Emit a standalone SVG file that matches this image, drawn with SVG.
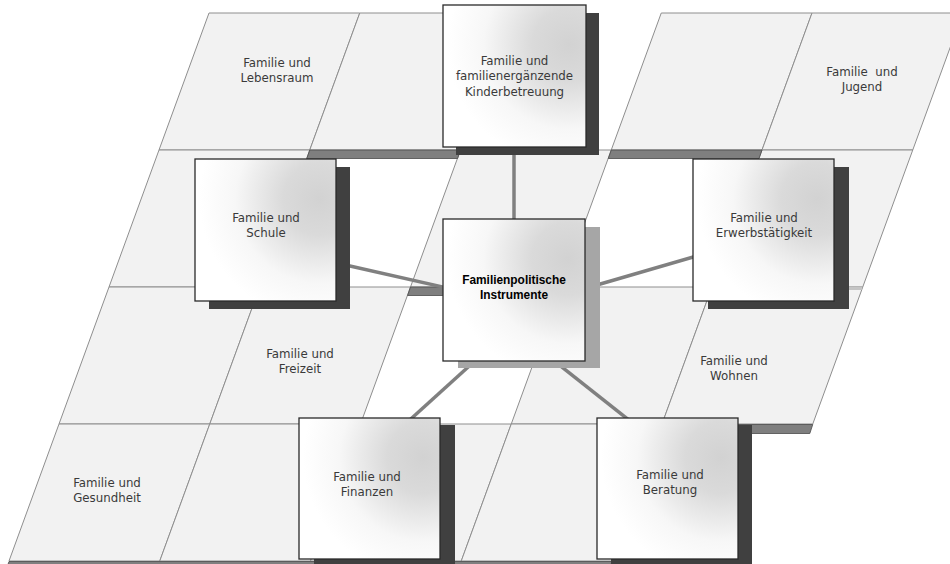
<svg xmlns="http://www.w3.org/2000/svg" width="950" height="564" viewBox="0 0 950 564">
<defs>
<radialGradient id="boxg" cx="0.88" cy="0.28" r="0.85" fx="0.88" fy="0.28">
<stop offset="0" stop-color="#D2D2D2"/>
<stop offset="0.3" stop-color="#DADADA"/>
<stop offset="0.7" stop-color="#F7F7F7"/>
<stop offset="1" stop-color="#FFFFFF"/>
</radialGradient>
<style>
.tile{fill:#F2F2F2;stroke:#8E8E8E;stroke-width:1}
.strip{fill:#7F7F7F;stroke:#4A4A4A;stroke-width:0.8}
.conn{stroke:#808080;stroke-width:3.5;fill:none}
.sh{fill:#404040}
.shc{fill:#A6A6A6}
.box{fill:url(#boxg);stroke:#2A2A2A;stroke-width:1.3}
.lbl{font-family:"DejaVu Sans","Liberation Sans",sans-serif;font-size:11.8px;fill:#3A3A3A;text-anchor:middle}
.lblb{font-family:"Liberation Sans","DejaVu Sans",sans-serif;font-size:11.9px;font-weight:bold;fill:#000;text-anchor:middle}
</style>
</defs>
<rect width="950" height="564" fill="#FFFFFF"/>
<g id="tiles">
<g id="tile-lebensraum">
<polygon class="tile" points="209,13 359.75,13 309.75,150 159,150"/>
<text class="lbl" x="277" y="66.5">Familie und</text>
<text class="lbl" x="277" y="81.5">Lebensraum</text>
</g>
<polygon class="tile" points="359.75,13 510.5,13 460.5,150 309.75,150"/>
<polygon class="tile" points="661.25,13 812,13 762,150 611.25,150"/>
<g id="tile-jugend">
<polygon class="tile" points="812,13 962.75,13 912.75,150 762,150"/>
<text class="lbl" x="862" y="75.5" xml:space="preserve">Familie  und</text>
<text class="lbl" x="862" y="90.5">Jugend</text>
</g>
<polygon class="tile" points="159,150 309.75,150 259.75,287 109,287"/>
<polygon class="tile" points="460.5,150 611.25,150 561.25,287 410.5,287"/>
<polygon class="tile" points="762,150 912.75,150 862.75,287 712,287"/>
<polygon class="tile" points="109,287 259.75,287 209.75,424 59,424"/>
<g id="tile-freizeit">
<polygon class="tile" points="259.75,287 410.5,287 360.5,424 209.75,424"/>
<text class="lbl" x="300" y="357.5">Familie und</text>
<text class="lbl" x="300" y="372.5">Freizeit</text>
</g>
<polygon class="tile" points="561.25,287 712,287 662,424 511.25,424"/>
<g id="tile-wohnen">
<polygon class="tile" points="712,287 862.75,287 812.75,424 662,424"/>
<text class="lbl" x="734" y="364.5">Familie und</text>
<text class="lbl" x="734" y="380">Wohnen</text>
</g>
<g id="tile-gesundheit">
<polygon class="tile" points="59,424 209.75,424 159.75,561 9,561"/>
<text class="lbl" x="107" y="486.5">Familie und</text>
<text class="lbl" x="107" y="501.5">Gesundheit</text>
</g>
<polygon class="tile" points="209.75,424 360.5,424 310.5,561 159.75,561"/>
<polygon class="tile" points="360.5,424 511.25,424 461.25,561 310.5,561"/>
<polygon class="tile" points="511.25,424 662,424 612,561 461.25,561"/>
<polygon class="strip" points="309.75,150 460.5,150 457.6,158.5 306.8,158.5"/>
<polygon class="strip" points="611.25,150 762,150 759,158.5 608.3,158.5"/>
<polygon class="strip" points="410.5,287 561.25,287 558.3,295.5 407.6,295.5"/>
<polygon class="strip" points="662,424.5 812.75,424.5 809.8,433.5 659,433.5"/>
<polygon class="strip" points="9,561.5 612,561.5 609,570 6,570"/>
<polygon points="849,286.5 862.5,286.5 861.5,290 849,290" fill="#C4C4C4"/>
</g>
<g id="connectors">
<line class="conn" x1="514" y1="150" x2="514" y2="225"/>
<line class="conn" x1="340" y1="263.7" x2="450" y2="288.6"/>
<line class="conn" x1="590" y1="287" x2="700" y2="255"/>
<line class="conn" x1="480" y1="356.2" x2="405" y2="424.3"/>
<line class="conn" x1="550" y1="357.7" x2="635" y2="424.9"/>
</g>
<g id="node-kinderbetreuung">
<rect class="sh" x="456" y="13" width="143" height="142"/>
<rect class="box" x="443" y="5" width="143" height="142"/>
<text class="lbl" x="514.5" y="64.5">Familie und</text>
<text class="lbl" x="514.5" y="80">familienergänzende</text>
<text class="lbl" x="514.5" y="95.5">Kinderbetreuung</text>
</g>
<g id="node-schule">
<rect class="sh" x="209" y="167" width="141" height="142"/>
<rect class="box" x="195" y="159" width="141" height="142"/>
<text class="lbl" x="266" y="221.5">Familie und</text>
<text class="lbl" x="266" y="236.5">Schule</text>
</g>
<g id="node-erwerbstaetigkeit">
<rect class="sh" x="708" y="167" width="141" height="142"/>
<rect class="box" x="693" y="159" width="141" height="142"/>
<text class="lbl" x="764" y="221.5">Familie und</text>
<text class="lbl" x="764" y="236.5">Erwerbstätigkeit</text>
</g>
<g id="node-center">
<rect class="shc" x="458" y="227" width="142" height="141"/>
<rect class="box" x="443" y="219" width="142" height="142"/>
<text class="lblb" x="514" y="283.5">Familienpolitische</text>
<text class="lblb" x="514" y="298.5">Instrumente</text>
</g>
<g id="node-finanzen">
<rect class="sh" x="314" y="425" width="141" height="141"/>
<rect class="box" x="299" y="418" width="141" height="141"/>
<text class="lbl" x="367" y="480.5">Familie und</text>
<text class="lbl" x="367" y="495.5">Finanzen</text>
</g>
<g id="node-beratung">
<rect class="sh" x="611" y="425" width="141" height="141"/>
<rect class="box" x="597" y="418" width="141" height="141"/>
<text class="lbl" x="670" y="478.5">Familie und</text>
<text class="lbl" x="670" y="493.5">Beratung</text>
</g>
</svg>
